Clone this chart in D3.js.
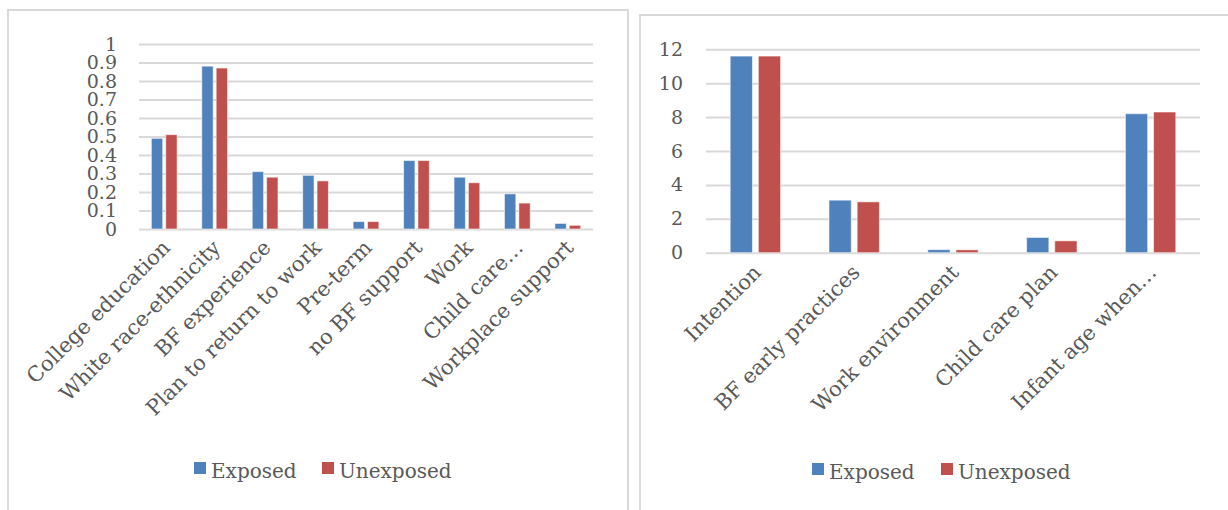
<!DOCTYPE html>
<html>
<head>
<meta charset="utf-8">
<script src="https://cdn.jsdelivr.net/npm/d3@7/dist/d3.min.js"></script>
<style>
  html, body { margin: 0; padding: 0; background: #ffffff; }
  svg { display: block; }
  text { font-family: "DejaVu Serif", "Liberation Serif", serif; fill: #595959; }
</style>
</head>
<body>
<svg id="chart" width="1228" height="510"></svg>
<script>
// Series shared by both panels
const seriesNames = ["Exposed", "Unexposed"];
const seriesColors = ["#4F81BD", "#C0504D"];

// Left panel: proportions
const leftCategories = ["College education", "White race-ethnicity", "BF experience",
  "Plan to return to work", "Pre-term", "no BF support", "Work", "Child care…", "Workplace support"];
const leftExposed   = [0.49, 0.88, 0.31, 0.29, 0.04, 0.37, 0.28, 0.19, 0.03];
const leftUnexposed = [0.51, 0.87, 0.28, 0.26, 0.04, 0.37, 0.25, 0.14, 0.02];
const leftTicks = [0, 0.1, 0.2, 0.3, 0.4, 0.5, 0.6, 0.7, 0.8, 0.9, 1];

// Right panel: scores
const rightCategories = ["Intention", "BF early practices", "Work environment", "Child care plan", "Infant age when…"];
const rightExposed   = [11.6, 3.1, 0.18, 0.9, 8.2];
const rightUnexposed = [11.6, 3.0, 0.17, 0.7, 8.3];
const rightTicks = [0, 2, 4, 6, 8, 10, 12];

const svg = d3.select("#chart");

function drawPanel(cfg) {
  const g = svg.append("g");

  // panel frame
  g.append("rect")
    .attr("x", cfg.frame[0]).attr("y", cfg.frame[1])
    .attr("width", cfg.frame[2]).attr("height", cfg.frame[3])
    .attr("fill", "#ffffff").attr("stroke", "#d9d9d9").attr("stroke-width", 2);

  const y = d3.scaleLinear().domain([0, cfg.yMax]).range([cfg.plot.bottom, cfg.plot.top]);
  const x0 = d3.scaleBand().domain(cfg.categories).range([cfg.plot.left, cfg.plot.right]);
  const bw = x0.bandwidth();
  const x1 = d3.scaleBand().domain(seriesNames)
    .range([bw * 0.245, bw * 0.755]).paddingInner(0.21);

  // gridlines and tick labels
  const yAxis = d3.axisLeft(y).tickValues(cfg.ticks)
    .tickSize(-(cfg.plot.right - cfg.plot.left)).tickPadding(cfg.tickPad)
    .tickFormat(d3.format("~g"));
  const ax = g.append("g").attr("transform", `translate(${cfg.plot.left},0)`).call(yAxis);
  ax.select(".domain").remove();
  ax.selectAll(".tick line").attr("stroke", "#d9d9d9").attr("stroke-width", 2);
  ax.selectAll(".tick text").attr("font-size", cfg.yFont).attr("fill", "#595959")
    .style("font-family", '"DejaVu Serif", serif');

  // bars
  const rows = cfg.categories.map((c, i) => ({ cat: c, vals: [cfg.series[0][i], cfg.series[1][i]] }));
  const groups = g.append("g").selectAll("g").data(rows).join("g")
    .attr("transform", d => `translate(${x0(d.cat)},0)`);
  groups.selectAll("rect")
    .data(d => d.vals.map((v, k) => ({ name: seriesNames[k], v, k })))
    .join("rect")
    .attr("x", d => x1(d.name))
    .attr("y", d => y(d.v))
    .attr("width", x1.bandwidth())
    .attr("height", d => y(0) - y(d.v))
    .attr("fill", d => seriesColors[d.k])
    .attr("stroke", "rgba(255,255,255,0.55)")
    .attr("stroke-width", 1);

  // rotated category labels
  g.append("g").selectAll("text").data(cfg.categories).join("text")
    .attr("transform", d => `translate(${x0(d) + bw / 2 + cfg.labelDx},${cfg.plot.bottom + cfg.labelDy}) rotate(-45)`)
    .attr("text-anchor", "end")
    .attr("font-size", cfg.xFont)
    .text(d => d);

  // legend
  const lg = g.append("g").selectAll("g").data(seriesNames).join("g")
    .attr("transform", (d, i) => `translate(${cfg.legend.x[i]},${cfg.legend.y})`);
  lg.append("rect").attr("x", 0).attr("y", -16).attr("width", 12).attr("height", 12)
    .attr("fill", (d, i) => seriesColors[i]);
  lg.append("text").attr("x", 17).attr("y", 0).attr("font-size", cfg.legendFont).text(d => d);
}

drawPanel({
  frame: [8, 10, 620, 520],
  plot: { left: 139, right: 593, top: 44, bottom: 229 },
  categories: leftCategories,
  series: [leftExposed, leftUnexposed],
  yMax: 1, ticks: leftTicks, tickPad: 22, yFont: 19,
  xFont: 21, labelDx: 7, labelDy: 20,
  legend: { x: [194, 322], y: 478 }, legendFont: 20
});

drawPanel({
  frame: [640, 15, 600, 520],
  plot: { left: 706, right: 1200, top: 49.3, bottom: 252.7 },
  categories: rightCategories,
  series: [rightExposed, rightUnexposed],
  yMax: 12, ticks: rightTicks, tickPad: 23, yFont: 19,
  xFont: 21, labelDx: 7, labelDy: 21,
  legend: { x: [812, 941], y: 479 }, legendFont: 20
});
</script>
</body>
</html>
